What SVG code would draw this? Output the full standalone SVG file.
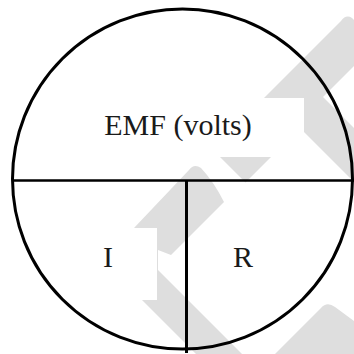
<svg xmlns="http://www.w3.org/2000/svg" width="354" height="354" viewBox="0 0 354 354">
<style>
.wm{fill:#dedede;stroke:none}
.ln{stroke:#000;fill:none}
.lbl{font-family:"Liberation Serif","Times New Roman",serif;font-size:30px;fill:#1a1a1a;text-anchor:middle}
</style>
<rect width="354" height="354" fill="#fff"/>
<g id="watermark">
<path class="wm" d="M341,21 Q346,14 352,18 L354,20 L354,66 L323,97 L354,128 L354,182 L304,132 L304,98 L264,98 Z"/>
<path class="wm" d="M220,157 L271,157 L245.5,182.5 Z"/>
<path class="wm" d="M189,170 Q194,163 201,168 Q214,182 224,202 L171,255 L158,250 L158,270 L242,354 L196,354 L142,300 L157,300 L157,228 L134,228 Z"/>
<path class="wm" d="M321,308 Q327,301 335,307 L354,321 L354,354 L275,354 Z"/>
</g>
<g id="connectors">
<line class="ln" x1="12" y1="180.5" x2="354" y2="180.5" stroke-width="2.5"/>
<line class="ln" x1="186.5" y1="180.5" x2="186.5" y2="353" stroke-width="3"/>
</g>
<g id="circle">
<circle class="ln" cx="182.5" cy="179" r="170" stroke-width="3"/>
</g>
<g id="node-emf"><text class="lbl" x="178" y="135">EMF (volts)</text></g>
<g id="node-i"><text class="lbl" x="108" y="267">I</text></g>
<g id="node-r"><text class="lbl" x="243" y="267">R</text></g>
</svg>
